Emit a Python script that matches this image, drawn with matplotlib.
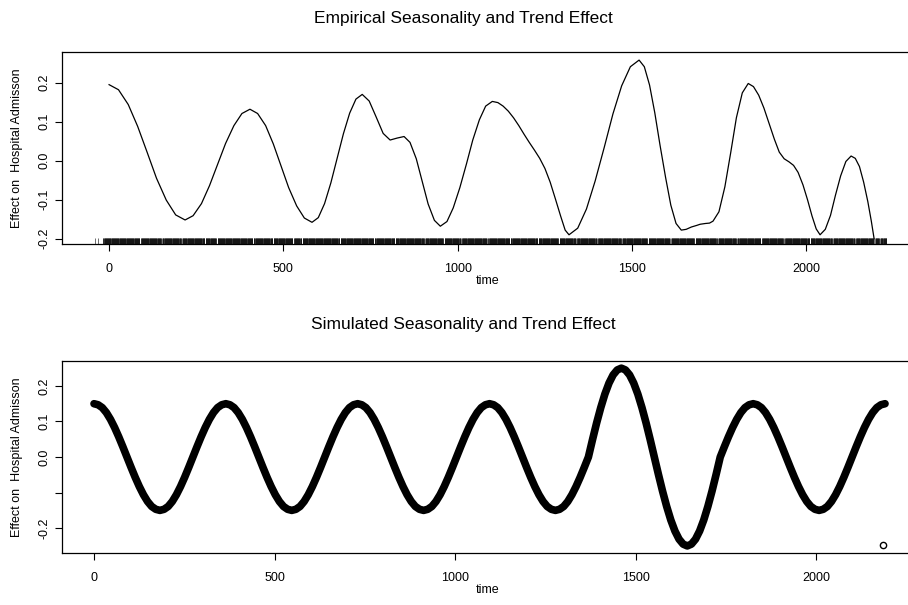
import numpy as np
import matplotlib
matplotlib.use("Agg")
import matplotlib.pyplot as plt

plt.rcParams["font.family"] = ["Liberation Sans", "DejaVu Sans"]

# empirical smooth effect
emp_time = [0, 27, 55, 82, 109, 136, 164, 191, 218,
            241, 265, 288, 311, 334, 358, 381, 404,
            426, 449, 471, 493, 515, 538, 560, 582,
            600, 618, 636, 654, 672, 690, 708, 726,
            746, 766, 786, 806, 826, 846,
            863, 881, 898, 915, 933, 950,
            969, 987, 1006, 1025, 1043, 1062, 1080, 1099,
            1115, 1130, 1145, 1160, 1175, 1190, 1205, 1220, 1235, 1250, 1265, 1280, 1295, 1308, 1319,
            1344, 1369, 1394, 1420, 1445, 1470, 1495, 1520,
            1535, 1550, 1565, 1580, 1596, 1611, 1626, 1641,
            1655, 1670, 1685, 1695, 1710, 1722, 1732,
            1749, 1766, 1783, 1799, 1816, 1833,
            1848, 1863, 1878, 1893, 1908, 1922, 1936, 1950, 1963, 1976, 1990, 2003, 2016, 2028, 2039,
            2054, 2069, 2083, 2098, 2113, 2128,
            2140, 2152, 2164, 2176, 2186, 2194]
emp_effect = [0.195, 0.182, 0.144, 0.088, 0.022, -0.045, -0.101, -0.139, -0.152,
              -0.141, -0.110, -0.064, -0.010, 0.044, 0.090, 0.121, 0.132,
              0.121, 0.090, 0.043, -0.013, -0.069, -0.116, -0.147, -0.158,
              -0.146, -0.110, -0.057, 0.006, 0.069, 0.122, 0.158, 0.170,
              0.153, 0.112, 0.070, 0.053, 0.058, 0.062,
              0.047, 0.005, -0.053, -0.111, -0.153, -0.168,
              -0.156, -0.121, -0.069, -0.008, 0.053, 0.105, 0.140, 0.152,
              0.149, 0.140, 0.127, 0.110, 0.090, 0.068, 0.047, 0.027, 0.006, -0.020, -0.055, -0.098, -0.142, -0.178, -0.190,
              -0.173, -0.124, -0.052, 0.034, 0.120, 0.192, 0.241, 0.258,
              0.241, 0.194, 0.123, 0.040, -0.043, -0.114, -0.161, -0.178,
              -0.176, -0.170, -0.166, -0.163, -0.161, -0.160, -0.155,
              -0.131, -0.067, 0.022, 0.110, 0.174, 0.198,
              0.190, 0.168, 0.135, 0.095, 0.055, 0.022, 0.005, -0.003, -0.012, -0.030, -0.062, -0.100, -0.142, -0.175, -0.190,
              -0.176, -0.140, -0.089, -0.039, -0.002, 0.012,
              0.006, -0.015, -0.055, -0.105, -0.155, -0.200]

# rug of observation days: covered span, a few isolated early days, visible gaps
rug_span = (-17, 2229)
rug_extra = [-40, -31]
rug_gaps = [89, 151, 208, 275, 309, 413, 470, 528, 553, 662, 760, 820, 905, 960, 1010,
            1085, 1150, 1230, 1290, 1340, 1400, 1470, 1545, 1610, 1680, 1745, 1800, 1870,
            1935, 2010, 2075, 2140, 2195, 2210]

# simulated effect, sampled every 11.40625 days (32 samples per year)
sim_step = 11.40625
sim_effect = [
    0.150, 0.147, 0.139, 0.125, 0.106, 0.083, 0.057, 0.029, 0.000, -0.029, -0.057, -0.083, -0.106, -0.125, -0.139, -0.147,
    -0.150, -0.147, -0.139, -0.125, -0.106, -0.083, -0.057, -0.029, 0.000, 0.029, 0.057, 0.083, 0.106, 0.125, 0.139, 0.147,
    0.150, 0.147, 0.139, 0.125, 0.106, 0.083, 0.057, 0.029, 0.000, -0.029, -0.057, -0.083, -0.106, -0.125, -0.139, -0.147,
    -0.150, -0.147, -0.139, -0.125, -0.106, -0.083, -0.057, -0.029, 0.000, 0.029, 0.057, 0.083, 0.106, 0.125, 0.139, 0.147,
    0.150, 0.147, 0.139, 0.125, 0.106, 0.083, 0.057, 0.029, 0.000, -0.029, -0.057, -0.083, -0.106, -0.125, -0.139, -0.147,
    -0.150, -0.147, -0.139, -0.125, -0.106, -0.083, -0.057, -0.029, 0.000, 0.029, 0.057, 0.083, 0.106, 0.125, 0.139, 0.147,
    0.150, 0.147, 0.139, 0.125, 0.106, 0.083, 0.057, 0.029, 0.000, -0.029, -0.057, -0.083, -0.106, -0.125, -0.139, -0.147,
    -0.150, -0.147, -0.139, -0.125, -0.106, -0.083, -0.057, -0.029,
    0.000, 0.049, 0.096, 0.139, 0.177, 0.208, 0.231, 0.245,
    0.250, 0.245, 0.231, 0.208, 0.177, 0.139, 0.096, 0.049, 0.000, -0.049, -0.096, -0.139, -0.177, -0.208, -0.231, -0.245,
    -0.250, -0.245, -0.231, -0.208, -0.177, -0.139, -0.096, -0.049,
    0.000, 0.029, 0.057, 0.083, 0.106, 0.125, 0.139, 0.147,
    0.150, 0.147, 0.139, 0.125, 0.106, 0.083, 0.057, 0.029, 0.000, -0.029, -0.057, -0.083, -0.106, -0.125, -0.139, -0.147,
    -0.150, -0.147, -0.139, -0.125, -0.106, -0.083, -0.057, -0.029, 0.000, 0.029, 0.057, 0.083, 0.106, 0.125, 0.139, 0.147,
    0.150,
]
sim_outlier_time = [2185]
sim_outlier_effect = [-0.247]

W, H = 908, 605
fig = plt.figure(figsize=(W / 100, H / 100), dpi=100)


def px_axes(left, top, right, bottom):
    return fig.add_axes([left / W, 1 - bottom / H, (right - left) / W, (bottom - top) / H])


def style(ax, yticks, ylabels):
    ax.set_yticks(yticks)
    ax.set_yticklabels(ylabels, rotation=90, va="center")
    ax.set_xticks([0, 500, 1000, 1500, 2000])
    ax.tick_params(axis="both", direction="out", length=5, width=0.8, labelsize=9,
                   color="black")
    ax.tick_params(axis="x", pad=9)
    ax.tick_params(axis="y", pad=3.5)
    for s in ax.spines.values():
        s.set_linewidth(0.9)


# upper panel
ax1 = px_axes(62, 51.7, 917, 244)
ax1.plot(emp_time, emp_effect, color="black", lw=0.9)
rug_days = [d for d in range(rug_span[0], rug_span[1] + 1)
            if all(abs(d - g) > 1 for g in rug_gaps)] + rug_extra
ax1.vlines(rug_days, 0, 0.03, transform=ax1.get_xaxis_transform(), color="black", lw=0.4)
ax1.set_xlim(-135, 2317)
ax1.set_ylim(-0.2136, 0.2795)
style(ax1, [-0.2, -0.1, 0.0, 0.1, 0.2], ["-0.2", "-0.1", "0.0", "0.1", "0.2"])

# lower panel
ax2 = px_axes(62, 360.7, 917, 552.5)
sim_time = np.arange(len(sim_effect)) * sim_step
ax2.plot(sim_time, sim_effect, color="black", lw=5.5,
         solid_capstyle="round", solid_joinstyle="round")
ax2.plot(sim_outlier_time, sim_outlier_effect, "o", mfc="none", mec="black", ms=4.5, mew=1.0)
ax2.set_xlim(-88.6, 2278.5)
ax2.set_ylim(-0.2685, 0.271)
style(ax2, [-0.2, -0.1, 0.0, 0.1, 0.2], ["-0.2", "", "0.0", "0.1", "0.2"])

ylab = "Effect on  Hospital Admisson"
fig.text(17 / W, 1 - 148 / H, ylab, rotation=90, ha="center", va="center", fontsize=9)
fig.text(17 / W, 1 - 457 / H, ylab, rotation=90, ha="center", va="center", fontsize=9)
fig.text(488 / W, 1 - 284 / H, "time", ha="center", va="baseline", fontsize=9)
fig.text(488 / W, 1 - 593 / H, "time", ha="center", va="baseline", fontsize=9)
fig.text(463 / W, 1 - 18 / H, "Empirical Seasonality and Trend Effect",
         ha="center", va="center", fontsize=12.5)
fig.text(463 / W, 1 - 325 / H, "Simulated Seasonality and Trend Effect",
         ha="center", va="center", fontsize=12.5)

fig.savefig("out.png", dpi=100)
